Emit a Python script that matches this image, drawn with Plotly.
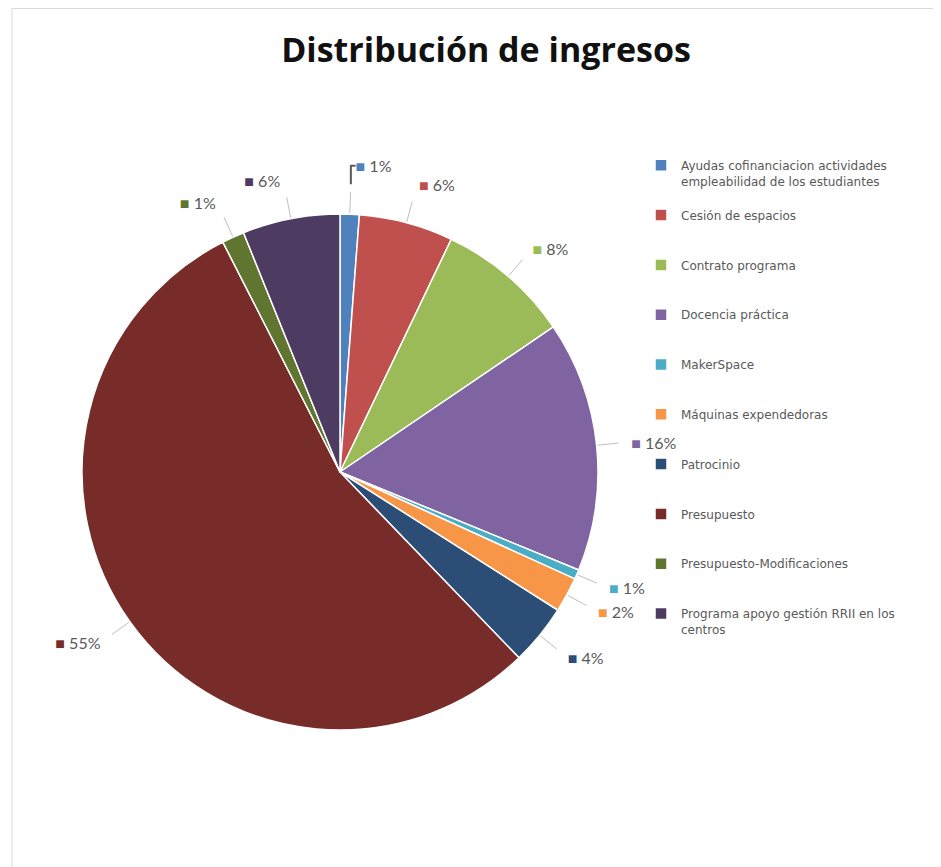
import math
import plotly.graph_objects as go

categories = [
    "Ayudas cofinanciacion actividades empleabilidad de los estudiantes",
    "Cesión de espacios",
    "Contrato programa",
    "Docencia práctica",
    "MakerSpace",
    "Máquinas expendedoras",
    "Patrocinio",
    "Presupuesto",
    "Presupuesto-Modificaciones",
    "Programa apoyo gestión RRII en los centros",
]
shares = [1.2, 5.9, 8.4, 15.7, 0.6, 2.2, 3.8, 54.7, 1.4, 6.1]
colors = ["#4F81BD", "#C0504D", "#9BBB59", "#8064A2", "#4BACC6",
          "#F79646", "#2C4D75", "#772C2A", "#5F7530", "#4D3B62"]

# legend text with manual wrapping; padded to 3 lines for even spacing
wraps = {
    "Ayudas cofinanciacion actividades empleabilidad de los estudiantes":
        "Ayudas cofinanciacion actividades<br>empleabilidad de los estudiantes",
    "Programa apoyo gestión RRII en los centros":
        "Programa apoyo gestión RRII en los<br>centros",
}
legend_labels = []
for c in categories:
    t = wraps.get(c, c)
    n = t.count("<br>") + 1
    t = t + "<br>\u00a0" * (3 - n)
    legend_labels.append(t)

texttemplates = [
    "<span style='color:%s'>■</span> %%{percent:.0%%}" % col for col in colors
]

# geometry (pixels inside the figure)
W, H = 933, 859
cx, cy, r = 332, 464, 258
r_lab = r + 30


def dom(rad):
    return dict(x=[(cx - rad) / W, (cx + rad) / W],
                y=[(H - cy - rad) / H, (H - cy + rad) / H])


fig = go.Figure()
fig.add_trace(go.Pie(
    labels=legend_labels,
    values=shares,
    sort=False,
    direction="clockwise",
    rotation=0,
    marker=dict(colors=colors, line=dict(color="white", width=1.5)),
    textinfo="none",
    hovertext=categories,
    hoverinfo="text+percent",
    domain=dom(r),
))
# transparent companion ring that carries the outside percentage labels
fig.add_trace(go.Pie(
    labels=legend_labels,
    values=shares,
    sort=False,
    direction="clockwise",
    rotation=0,
    marker=dict(colors=["rgba(0,0,0,0)"] * len(shares),
                line=dict(color="rgba(0,0,0,0)", width=0)),
    textposition="outside",
    texttemplate=texttemplates,
    textfont=dict(family="Lato", size=16, color="#595959"),
    hoverinfo="skip",
    showlegend=False,
    domain=dom(r_lab),
))

# leader lines along each slice's mid angle
shapes = []
total = sum(shares)
cum = 0.0
for v in shares:
    mid = (cum + v / 2) / total * 2 * math.pi
    cum += v
    x0 = cx + (r + 1) * math.sin(mid)
    y0 = cy - (r + 1) * math.cos(mid)
    x1 = cx + (r + 22) * math.sin(mid)
    y1 = cy - (r + 22) * math.cos(mid)
    shapes.append(dict(type="line", xref="paper", yref="paper",
                       x0=x0 / W, y0=1 - y0 / H, x1=x1 / W, y1=1 - y1 / H,
                       line=dict(color="#BFBFBF", width=1)))
shapes.append(dict(type="rect", xref="paper", yref="paper",
                   x0=4 / W, x1=1.05, y0=-0.05, y1=1 - 0.5 / H,
                   line=dict(color="#D9D9D9", width=1)))

fig.update_layout(
    width=W, height=H,
    margin=dict(l=0, r=0, t=0, b=0),
    paper_bgcolor="white",
    title=dict(text="<b>Distribución de ingresos</b>", x=478 / W, xanchor="center",
               y=1 - 42 / H, yanchor="middle",
               font=dict(family="Open Sans", size=34, color="#111111")),
    legend=dict(x=633 / W, xanchor="left", y=1 - 143 / H, yanchor="top",
                valign="top",
                font=dict(family="DejaVu Sans", size=12, color="#595959"),
                bgcolor="rgba(0,0,0,0)"),
    shapes=shapes,
)

fig.write_html("out.html")
